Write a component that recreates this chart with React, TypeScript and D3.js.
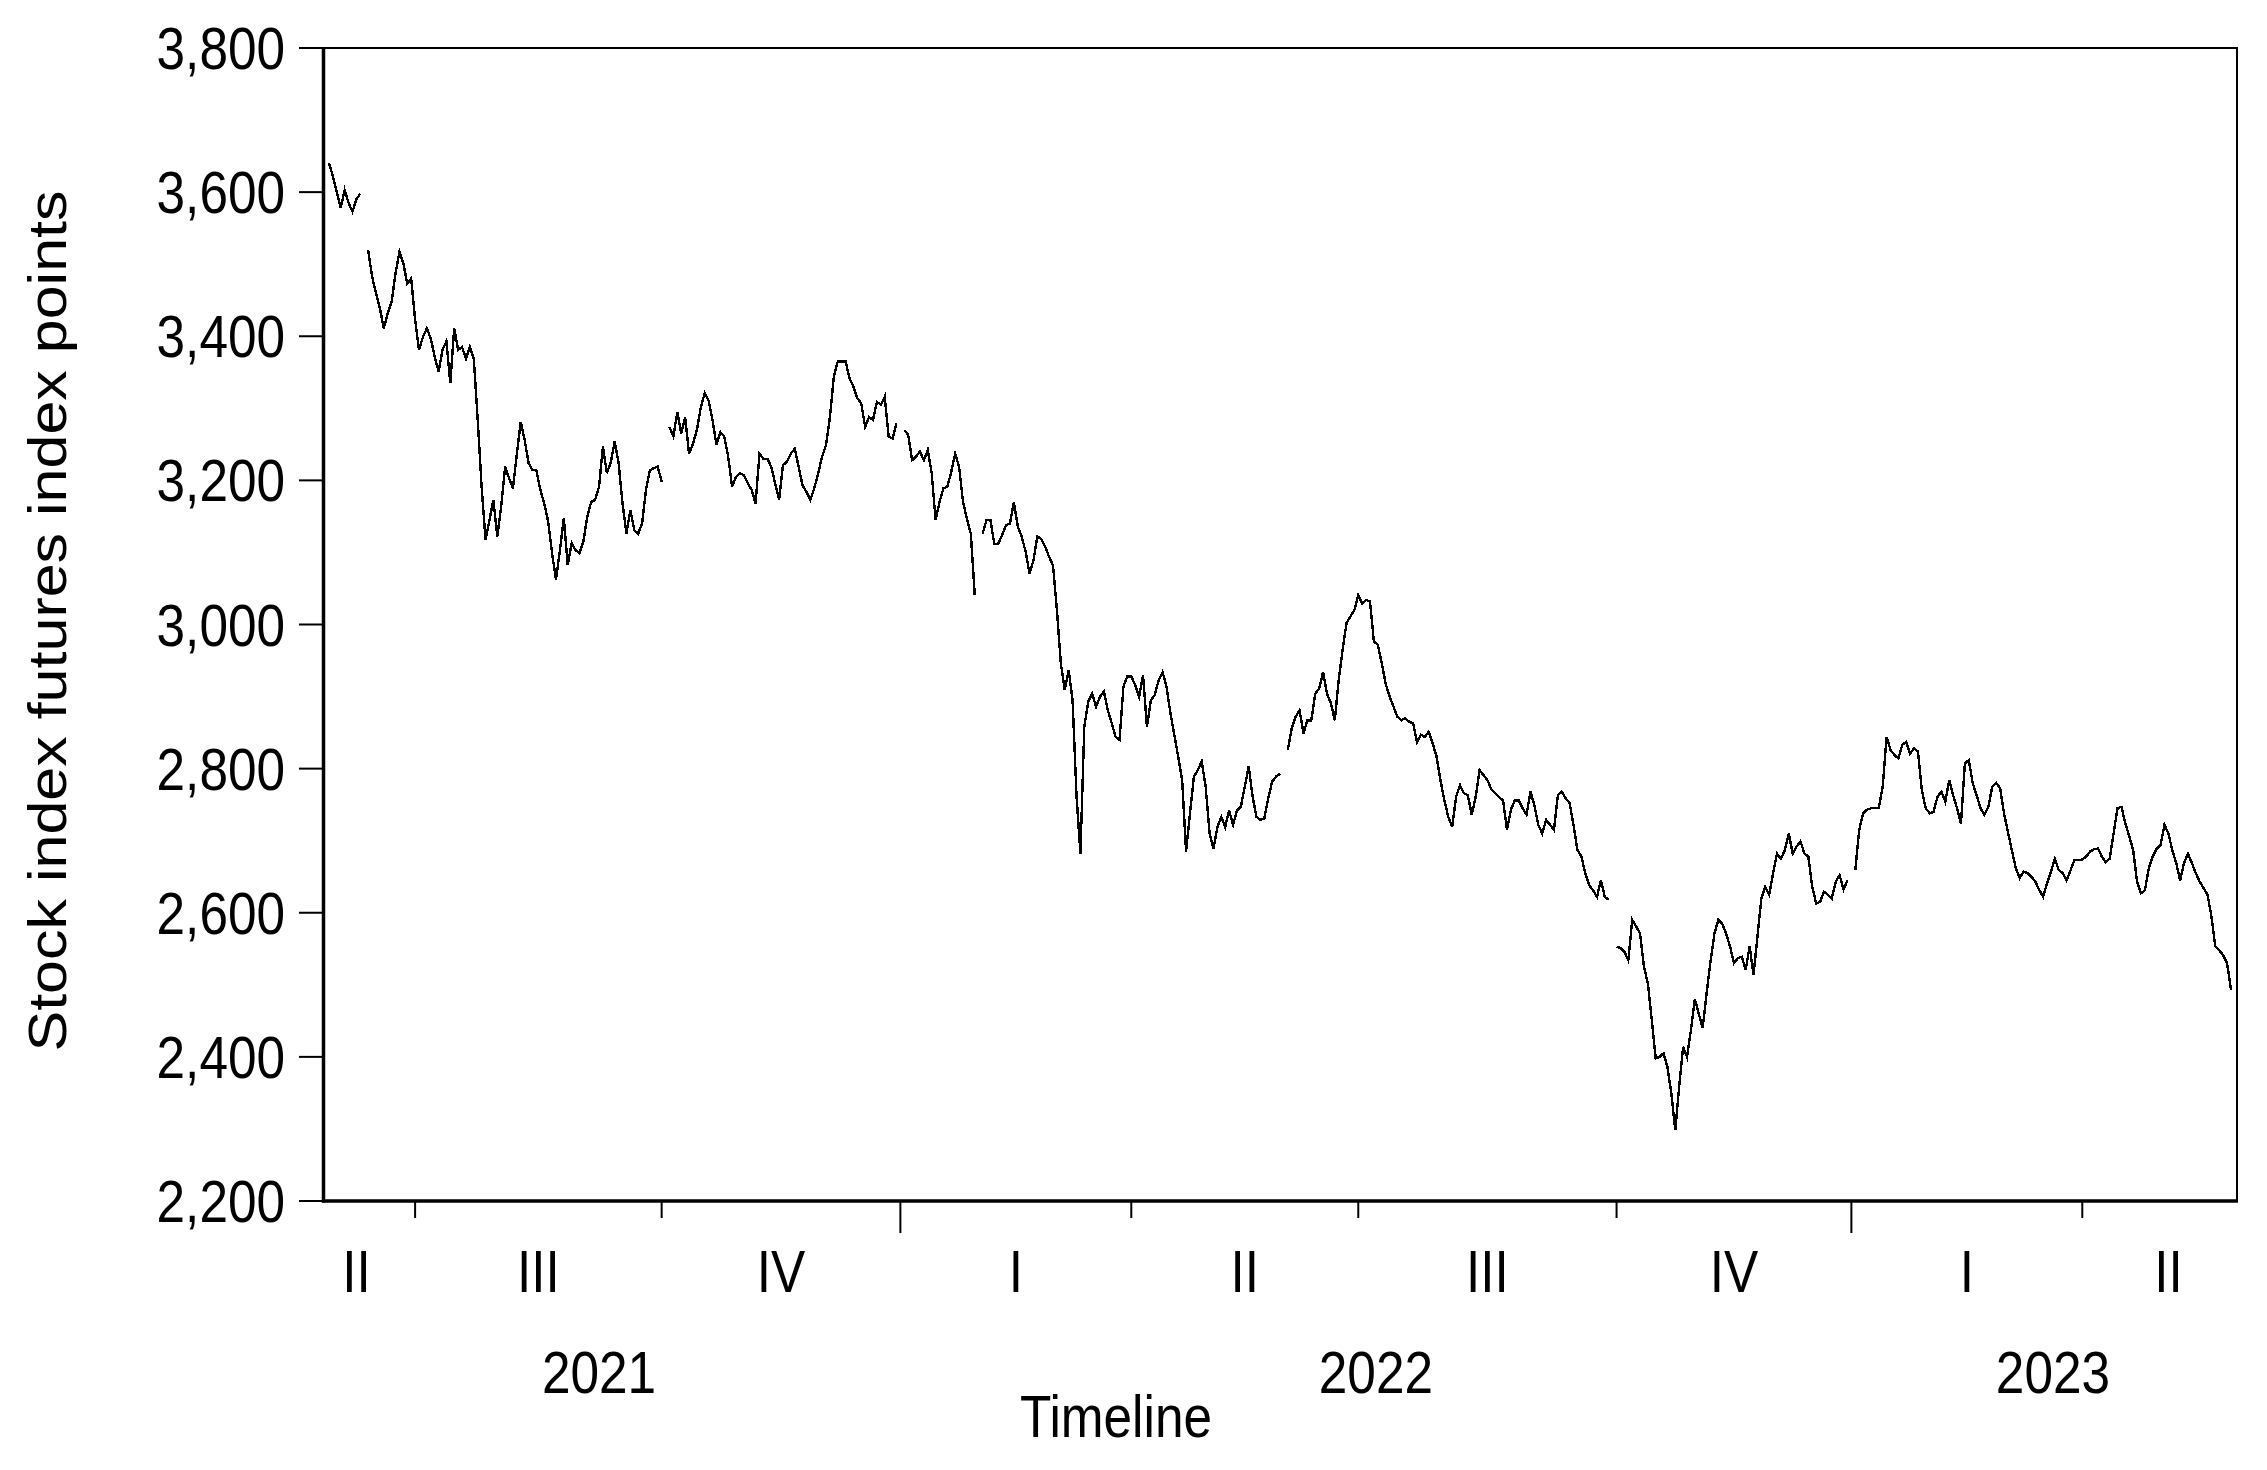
import React from "react";
import * as d3 from "d3";

// Daily observations (trading days), grouped by calendar quarter. null = missing observation (line break).
const q2_2021 = [3640, 3622, 3600, 3578, 3603, 3585, 3573, 3590, 3598, null, 3520, 3483, 3460, 3439, 3411, 3432, 3448, 3487, 3517, 3501, 3473, 3480];
const q3_2021 = [3423, 3381, 3399, 3411, 3397, 3372, 3351, 3381, 3393, 3335, 3411, 3381, 3385, 3369, 3385, 3369, 3284, 3191, 3117, 3145, 3173, 3122, 3164, 3219, 3203, 3189, 3237, 3281, 3256, 3224, 3214, 3214, 3187, 3168, 3143, 3099, 3062, 3103, 3147, 3083, 3113, 3103, 3099, 3115, 3150, 3170, 3173, 3191, 3247, 3210, 3225, 3254, 3224, 3168, 3126, 3159, 3131, 3126, 3140, 3187, 3214, 3217, 3219];
const q4_2021 = [3198, null, 3274, 3261, 3295, 3265, 3288, 3237, 3251, 3270, 3301, 3321, 3311, 3284, 3249, 3267, 3261, 3233, 3191, 3205, 3210, 3207, 3196, 3187, 3168, 3237, 3230, 3230, 3219, 3196, 3173, 3221, 3226, 3237, 3244, 3219, 3193, 3184, 3173, 3189, 3210, 3233, 3249, 3288, 3344, 3365, 3365, 3365, 3342, 3330, 3314, 3307, 3274, 3288, 3284, 3309, 3305, 3316, 3261, 3258, 3279];
const q1_2022 = [null, 3270, 3263, 3228, 3233, 3240, 3228, 3242, 3210, 3145, 3170, 3189, 3191, 3212, 3237, 3219, 3170, 3147, 3126, 3041, null, 3126, 3145, 3145, 3112, 3112, 3124, 3138, 3140, 3170, 3136, 3122, 3101, 3071, 3089, 3122, 3119, 3108, 3094, 3082, 3020, 2946, 2909, 2937, 2895, 2763, 2682, 2858, 2893, 2904, 2886, 2900, 2907, 2881, 2863, 2844, 2840, 2914, 2928];
const q2_2022 = [2928, 2916, 2900, 2930, 2858, 2895, 2902, 2923, 2934, 2914, 2877, 2847, 2816, 2784, 2685, 2738, 2789, 2798, 2810, 2775, 2710, 2689, 2719, 2733, 2719, 2742, 2722, 2742, 2747, 2775, 2803, 2761, 2733, 2729, 2731, 2759, 2782, 2789, 2793, null, 2826, 2856, 2872, 2881, 2849, 2867, 2867, 2904, 2911, 2934, 2904, 2891, 2867, 2923, 2965, 3002, 3011, 3020];
const q3_2022 = [3041, 3029, 3034, 3032, 2976, 2972, 2946, 2918, 2900, 2886, 2872, 2867, 2870, 2865, 2863, 2837, 2847, 2844, 2851, 2835, 2817, 2784, 2756, 2733, 2719, 2761, 2777, 2766, 2763, 2736, 2761, 2798, 2791, 2784, 2771, 2766, 2760, 2756, 2715, 2743, 2756, 2756, 2745, 2736, 2768, 2749, 2722, 2710, 2729, 2722, 2715, 2763, 2768, 2759, 2752, 2722, 2687, 2678, 2655, 2638, 2631, 2622, 2645, 2622, 2618, null];
const q4_2022 = [2553, 2551, 2546, 2534, 2590, 2581, 2571, 2525, 2502, 2451, 2398, 2400, 2405, 2386, 2349, 2298, 2359, 2414, 2400, 2437, 2480, 2460, 2440, 2488, 2532, 2571, 2590, 2585, 2571, 2553, 2530, 2537, 2539, 2521, 2553, 2514, 2567, 2620, 2636, 2625, 2655, 2682, 2675, 2687, 2710, 2682, 2692, 2699, 2682, 2678, 2636, 2613, 2615, 2629, 2625, 2620, 2643, 2652, 2632, 2645];
const q1_2023 = [null, 2659, 2715, 2738, 2743, 2745, 2745, 2745, 2775, 2844, 2826, 2819, 2814, 2833, 2837, 2821, 2828, 2824, 2770, 2745, 2738, 2740, 2761, 2768, 2754, 2784, 2763, 2745, 2724, 2807, 2812, 2780, 2763, 2745, 2736, 2747, 2775, 2780, 2773, 2738, 2712, 2687, 2662, 2648, 2657, 2655, 2650, 2643, 2632, 2622, 2641, 2657, 2675, 2659, 2655, 2645, 2659, 2673, 2673];
const q2_2023 = [2674, 2678, 2685, 2688, 2689, 2678, 2670, 2675, 2710, 2745, 2747, 2724, 2706, 2687, 2643, 2627, 2631, 2662, 2678, 2689, 2694, 2722, 2710, 2687, 2669, 2645, 2669, 2682, 2669, 2655, 2643, 2634, 2625, 2595, 2553, 2548, 2541, 2530, 2493];

// Axis categories
const quarterLabels = ["II", "III", "IV", "I", "II", "III", "IV", "I", "II"];
const quarterStarts = [22, 85, 146, 205, 263, 329, 389, 448]; // observation index where a quarter begins
const yearStarts = [146, 389];
const yearLabels = ["2021", "2022", "2023"];
const labelSpan = [-8, 492]; // index span used for centring the first/last period labels
const yTicks = [2200, 2400, 2600, 2800, 3000, 3200, 3400, 3600, 3800];

const FONT = "'Liberation Sans', Arial, Helvetica, sans-serif";
const SX = 0.87;

function Txt(props: { x: number; y: number; anchor: string; size?: number; rotate?: boolean; children: React.ReactNode }) {
  const { x, y, anchor, size = 59, rotate, children } = props;
  return (
    <text
      transform={`translate(${x},${y}) scale(${SX},1)${rotate ? " rotate(-90)" : ""}`}
      textAnchor={anchor as any}
      fontFamily={FONT}
      fontSize={size}
      fill="#000"
    >
      {children}
    </text>
  );
}

export default function App() {
  const W = 2267;
  const H = 1470;
  const series: (number | null)[] = [
    ...q2_2021, ...q3_2021, ...q4_2021, ...q1_2022, ...q2_2022,
    ...q3_2022, ...q4_2022, ...q1_2023, ...q2_2023,
  ];
  const fl = 323.5, fr = 2237, ft = 48, fb = 1201;

  const x = d3.scaleLinear().domain([0, series.length - 1]).range([329, 2231]);
  const y = d3.scaleLinear().domain([2200, 3800]).range([fb, ft]);

  const line = d3
    .line<number | null>()
    .defined((d) => d != null)
    .x((_, i) => x(i))
    .y((d) => y(d as number));

  const fmt = d3.format(",");

  const qBounds = [labelSpan[0], ...quarterStarts, labelSpan[1]];
  const yBounds = [labelSpan[0], ...yearStarts, labelSpan[1]];

  return (
    <svg
      width={W}
      height={H}
      viewBox={`0 0 ${W} ${H}`}
      style={{ position: "absolute", left: 0, top: 0, display: "block", background: "#fff" }}
    >
      <rect x={0} y={0} width={W} height={H} fill="#fff" />

      {/* data line */}
      <path
        d={line(series) || ""}
        fill="none"
        stroke="#000"
        strokeWidth={2.4}
        strokeLinejoin="miter"
        shapeRendering="crispEdges"
      />

      {/* frame */}
      <rect x={fl} y={ft} width={fr - fl} height={fb - ft} fill="none" stroke="#000" strokeWidth={2} />
      <line x1={fl} x2={fl} y1={ft - 1} y2={fb + 1.5} stroke="#000" strokeWidth={3.5} />
      <line x1={fl - 1.5} x2={fr + 1} y1={fb} y2={fb} stroke="#000" strokeWidth={3.5} />

      {/* y axis */}
      {yTicks.map((t) => (
        <g key={t}>
          <line x1={299} x2={fl} y1={y(t)} y2={y(t)} stroke="#000" strokeWidth={2} />
          <Txt x={285} y={y(t) + 21} anchor="end">{fmt(t)}</Txt>
        </g>
      ))}

      {/* x axis ticks */}
      {quarterStarts.map((q) => {
        const long = yearStarts.includes(q);
        return <line key={q} x1={x(q)} x2={x(q)} y1={fb} y2={fb + (long ? 32 : 17)} stroke="#000" strokeWidth={2} />;
      })}

      {/* quarter labels */}
      {quarterLabels.map((lab, i) => (
        <Txt key={"q" + i} x={x((qBounds[i] + qBounds[i + 1]) / 2)} y={1292} anchor="middle">{lab}</Txt>
      ))}

      {/* year labels */}
      {yearLabels.map((lab, i) => (
        <Txt key={lab} x={x((yBounds[i] + yBounds[i + 1]) / 2)} y={1393} anchor="middle">{lab}</Txt>
      ))}

      {/* axis titles */}
      <Txt x={1116} y={1437} anchor="middle">Timeline</Txt>
      <Txt x={66} y={621} anchor="middle" size={61} rotate>Stock index futures index points</Txt>
    </svg>
  );
}
